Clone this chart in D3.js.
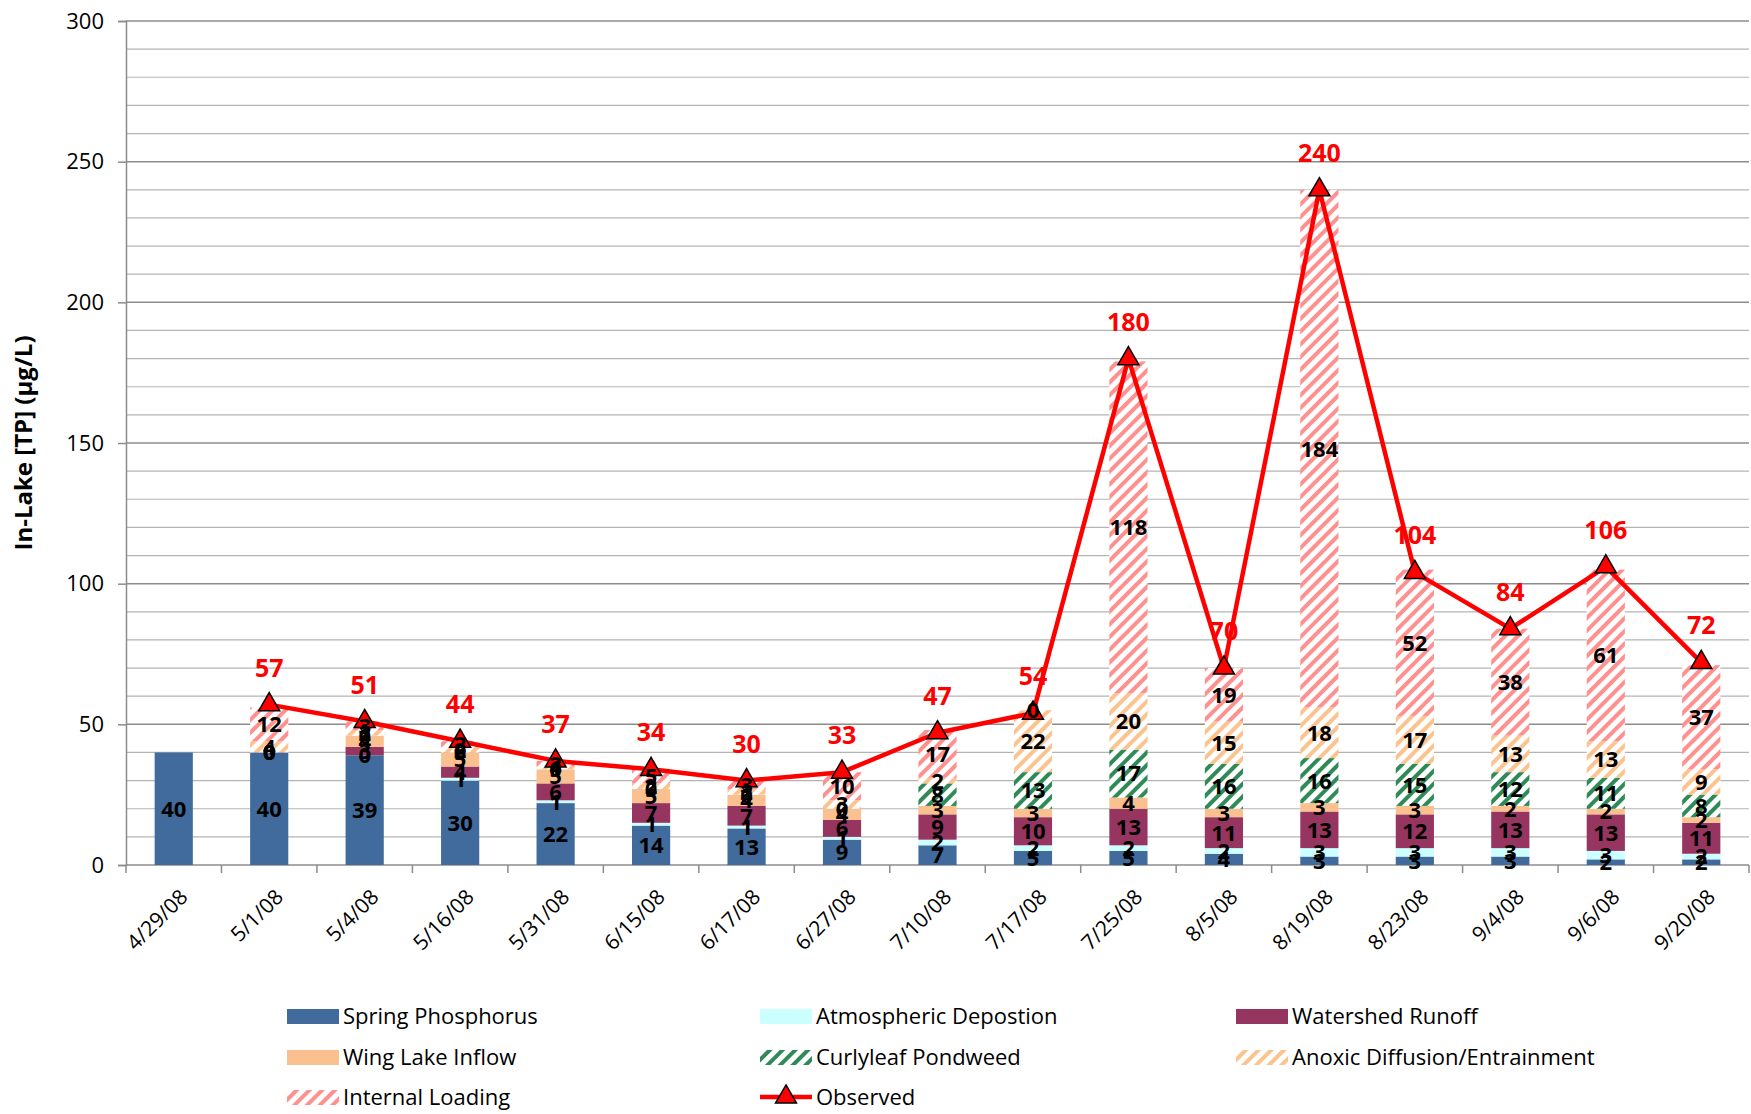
<!DOCTYPE html>
<html>
<head>
<meta charset="utf-8">
<script src="https://cdn.jsdelivr.net/npm/d3@7"></script>
<style>
  body { margin: 0; background: #fff; }
  text { font-family: "Open Sans", "Noto Sans", sans-serif; }
</style>
</head>
<body>
<div class="chart"></div>
<script>
// 日期 (x 轴)
const dates = ['4/29/08', '5/1/08', '5/4/08', '5/16/08', '5/31/08', '6/15/08', '6/17/08', '6/27/08',
  '7/10/08', '7/17/08', '7/25/08', '8/5/08', '8/19/08', '8/23/08', '9/4/08', '9/6/08', '9/20/08']

// 各来源 (从下到上堆叠)
const springP   = [40, 40, 39, 30, 22, 14, 13, 9, 7, 5, 5, 4, 3, 3, 3, 2, 2]
const atmDep    = [null, 0, 0, 1, 1, 1, 1, 1, 2, 2, 2, 2, 3, 3, 3, 3, 2]
const runoff    = [null, 0, 3, 4, 6, 7, 7, 6, 9, 10, 13, 11, 13, 12, 13, 13, 11]
const wingLake  = [null, 0, 4, 5, 5, 5, 4, 4, 3, 3, 4, 3, 3, 3, 2, 2, 2]
const curlyleaf = [null, 0, 0, 0, 0, 0, 0, 0, 8, 13, 17, 16, 16, 15, 12, 11, 8]
const anoxic    = [null, 4, 2, 2, 1, 2, 2, 3, 2, 22, 20, 15, 18, 17, 13, 13, 9]
const internal  = [null, 12, 3, 2, 2, 5, 3, 10, 17, 0, 118, 19, 184, 52, 38, 61, 37]

// 实测值
const observed  = [null, 57, 51, 44, 37, 34, 30, 33, 47, 54, 180, 70, 240, 104, 84, 106, 72]

const seriesNames = ['Spring Phosphorus', 'Atmospheric Depostion', 'Watershed Runoff', 'Wing Lake Inflow',
  'Curlyleaf Pondweed', 'Anoxic Diffusion/Entrainment', 'Internal Loading']
const seriesValues = [springP, atmDep, runoff, wingLake, curlyleaf, anoxic, internal]
const yTicks = [0, 50, 100, 150, 200, 250, 300]

// 填充: 纯色或斜线图案
const fills = ['#416b9c', '#ccffff', '#953560', '#fac08f', 'url(#hatch-green)', 'url(#hatch-orange)', 'url(#hatch-pink)']

const W = 1751, H = 1114
const margin = { left: 126, right: 2, top: 21, bottom: 249 }

const svg = d3.select('.chart')
  .append('svg')
  .attr('width', W)
  .attr('height', H)

// 斜线图案
const defs = svg.append('defs')
const hatches = [['hatch-green', '#2e8b57'], ['hatch-orange', '#fbc48f'], ['hatch-pink', '#ff9090']]
hatches.forEach(([id, c]) => {
  const p = defs.append('pattern')
    .attr('id', id)
    .attr('patternUnits', 'userSpaceOnUse')
    .attr('width', 9)
    .attr('height', 9)
    .attr('patternTransform', 'rotate(45)')
  p.append('rect').attr('width', 9).attr('height', 9).attr('fill', '#fff')
  p.append('rect').attr('width', 4).attr('height', 9).attr('fill', c)
})

const x = d3.scaleBand()
  .domain(dates)
  .range([margin.left, W - margin.right])
  .paddingInner(0.6)
  .paddingOuter(0.3)

const y = d3.scaleLinear()
  .domain([0, 300])
  .range([H - margin.bottom, margin.top])

// 网格线 (每 10 一条, 每 50 深一些)
svg.append('g')
  .selectAll('line')
  .data(d3.range(10, 301, 10))
  .enter()
  .append('line')
  .attr('x1', margin.left)
  .attr('x2', W - margin.right)
  .attr('y1', d => y(d))
  .attr('y2', d => y(d))
  .attr('stroke', d => d % 50 === 0 ? '#8c8c8c' : '#b4b4b4')
  .attr('stroke-width', d => d % 50 === 0 ? 1.5 : 1.2)

// y 轴
const yAxis = svg.append('g')
  .attr('transform', `translate(${margin.left},0)`)
  .call(d3.axisLeft(y).tickValues(yTicks).tickSize(8).tickPadding(14))
yAxis.select('.domain').attr('stroke', '#8c8c8c').attr('stroke-width', 1.5)
yAxis.selectAll('.tick line').attr('stroke', '#8c8c8c').attr('stroke-width', 1.5)
yAxis.selectAll('.tick text').attr('font-size', '22px').attr('fill', '#000')

// x 轴 (刻度在类别之间)
const bandStep = x.step()
svg.append('line')
  .attr('x1', margin.left)
  .attr('x2', W - margin.right)
  .attr('y1', y(0))
  .attr('y2', y(0))
  .attr('stroke', '#8c8c8c')
  .attr('stroke-width', 1.5)
svg.append('g')
  .selectAll('line')
  .data(d3.range(dates.length + 1))
  .enter()
  .append('line')
  .attr('x1', i => margin.left + i * bandStep)
  .attr('x2', i => margin.left + i * bandStep)
  .attr('y1', y(0))
  .attr('y2', y(0) + 8)
  .attr('stroke', '#8c8c8c')
  .attr('stroke-width', 1.5)

svg.append('g')
  .selectAll('text')
  .data(dates)
  .enter()
  .append('text')
  .attr('transform', d => `translate(${x(d) + x.bandwidth() / 2 + 10}, ${y(0) + 28}) rotate(-45)`)
  .attr('text-anchor', 'end')
  .attr('dy', '0.35em')
  .attr('font-size', '21px')
  .text(d => d)

// y 轴标题
svg.append('text')
  .attr('transform', `translate(32, ${(y(0) + y(300)) / 2}) rotate(-90)`)
  .attr('text-anchor', 'middle')
  .attr('font-size', '24px')
  .attr('font-weight', 'bold')
  .text('In-Lake [TP] (µg/L)')

// 堆叠
const table = dates.map((d, i) => {
  const row = { date: d }
  seriesNames.forEach((s, j) => { row[s] = seriesValues[j][i] || 0 })
  return row
})
const stacked = d3.stack().keys(seriesNames)(table)

const layers = svg.selectAll('g.layer')
  .data(stacked)
  .enter()
  .append('g')
  .attr('class', 'layer')
  .attr('fill', (d, i) => fills[i])

layers.selectAll('rect')
  .data(d => d)
  .enter()
  .append('rect')
  .attr('x', d => x(d.data.date))
  .attr('y', d => y(d[1]))
  .attr('width', x.bandwidth())
  .attr('height', d => y(d[0]) - y(d[1]))

// 实测线
const cx = d => x(d) + x.bandwidth() / 2
const pts = dates.map((d, i) => ({ date: d, v: observed[i] }))
const line = d3.line()
  .defined(d => d.v != null)
  .x(d => cx(d.date))
  .y(d => y(d.v))

svg.append('path')
  .datum(pts)
  .attr('fill', 'none')
  .attr('stroke', '#ff0000')
  .attr('stroke-width', 4.5)
  .attr('stroke-linejoin', 'round')
  .attr('d', line)

const tri = d3.symbol().type(d3.symbolTriangle).size(190)
svg.append('g')
  .selectAll('path')
  .data(pts.filter(d => d.v != null))
  .enter()
  .append('path')
  .attr('transform', d => `translate(${cx(d.date)}, ${y(d.v)})`)
  .attr('d', tri)
  .attr('fill', '#ff0000')
  .attr('stroke', '#000')
  .attr('stroke-width', 1.5)

// 分段注记
stacked.forEach((layer, j) => {
  svg.append('g')
    .selectAll('text')
    .data(layer.filter((d, i) => seriesValues[j][i] != null))
    .enter()
    .append('text')
    .attr('x', d => cx(d.data.date))
    .attr('y', d => (y(d[0]) + y(d[1])) / 2)
    .attr('dy', '0.36em')
    .attr('text-anchor', 'middle')
    .attr('font-size', '22px')
    .attr('font-weight', 'bold')
    .text(d => d[1] - d[0])
})

// 实测注记
svg.append('g')
  .selectAll('text')
  .data(pts.filter(d => d.v != null))
  .enter()
  .append('text')
  .attr('x', d => cx(d.date))
  .attr('y', d => y(d.v) - 28)
  .attr('text-anchor', 'middle')
  .attr('font-size', '25px')
  .attr('font-weight', 'bold')
  .attr('fill', '#ff0000')
  .text(d => d.v)

// 图例
const legendItems = seriesNames.concat(['Observed'])
const colX = [287, 760, 1236]
const rowY = [1016, 1057, 1097]
const legend = svg.selectAll('g.legend')
  .data(legendItems)
  .enter()
  .append('g')
  .attr('class', 'legend')
  .attr('transform', (d, i) => `translate(${colX[i % 3]}, ${rowY[Math.floor(i / 3)]})`)

legend.filter(d => d !== 'Observed')
  .append('rect')
  .attr('x', 0)
  .attr('y', -7)
  .attr('width', 52)
  .attr('height', 15)
  .attr('fill', (d, i) => fills[i])

const obsLegend = legend.filter(d => d === 'Observed')
obsLegend.append('line')
  .attr('x1', 0).attr('x2', 52)
  .attr('stroke', '#ff0000')
  .attr('stroke-width', 4.5)
obsLegend.append('path')
  .attr('transform', 'translate(26, 0)')
  .attr('d', tri)
  .attr('fill', '#ff0000')
  .attr('stroke', '#000')
  .attr('stroke-width', 1.5)

legend.append('text')
  .attr('x', 56)
  .attr('dy', '0.36em')
  .attr('font-size', '22px')
  .text(d => d)
</script>
</body>
</html>
